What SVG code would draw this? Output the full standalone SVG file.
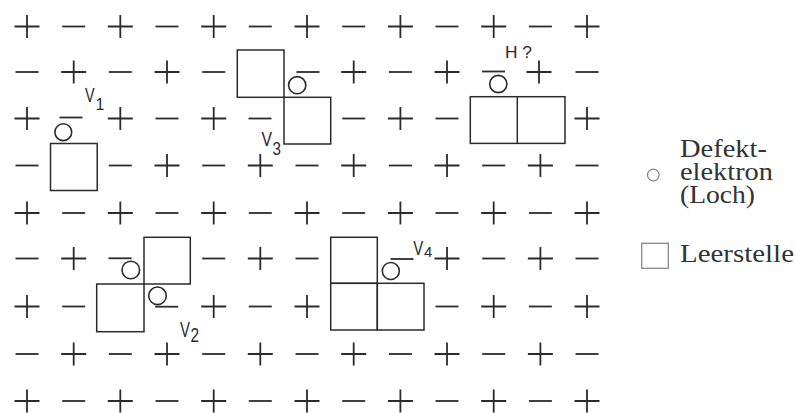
<svg xmlns="http://www.w3.org/2000/svg" xmlns:xlink="http://www.w3.org/1999/xlink" width="796" height="413" viewBox="0 0 796 413">
<style>
.ion{stroke:#2b2b2b;stroke-width:1.8;fill:none}
.sq{stroke:#2b2b2b;stroke-width:1.5;fill:none}
.hole{stroke:#2b2b2b;stroke-width:1.6;fill:none}
.lbl{font-family:"Liberation Sans",Arial,sans-serif;fill:#2b2b2b}
.leg{font-family:"Liberation Serif","Times New Roman",serif;font-size:26px;fill:#333}
.legs{stroke:#888;stroke-width:1.3;fill:none}
</style>
<defs>
<path id="p" class="ion" d="M-12.5 0H12.5M0 -11.5V11.5"/>
<path id="m" class="ion" d="M-11.5 0H11.5"/>
</defs>
<rect width="796" height="413" fill="#fff"/>
<g id="lattice">
<!-- row 0 -->
<use href="#p" x="27" y="26.5"/><use href="#m" x="73.7" y="26.5"/><use href="#p" x="120.3" y="26.5"/><use href="#m" x="167" y="26.5"/><use href="#p" x="213.7" y="26.5"/><use href="#m" x="260.3" y="26.5"/><use href="#p" x="307" y="26.5"/><use href="#m" x="353.7" y="26.5"/><use href="#p" x="400.4" y="26.5"/><use href="#m" x="447" y="26.5"/><use href="#p" x="493.7" y="26.5"/><use href="#m" x="540.4" y="26.5"/><use href="#p" x="587" y="26.5"/>
<!-- row 1 -->
<use href="#m" x="27" y="72"/><use href="#p" x="73.7" y="72"/><use href="#m" x="120.3" y="72"/><use href="#p" x="167" y="72"/><use href="#m" x="213.7" y="72"/><use href="#m" x="308" y="72"/><use href="#p" x="353.7" y="72"/><use href="#m" x="400.4" y="72"/><use href="#p" x="447" y="72"/><use href="#m" x="493.5" y="71.5"/><use href="#p" x="539" y="72"/><use href="#m" x="587" y="72"/>
<!-- row 2 -->
<use href="#p" x="27" y="118.5"/><use href="#m" x="71" y="117.5"/><use href="#p" x="120.3" y="118.5"/><use href="#m" x="167" y="118.5"/><use href="#p" x="213.7" y="118.5"/><use href="#m" x="260" y="118.5"/><use href="#m" x="353.7" y="118.5"/><use href="#p" x="400.4" y="118.5"/><use href="#m" x="447" y="118.5"/><use href="#p" x="587" y="118.5"/>
<!-- row 3 -->
<use href="#m" x="27" y="165.5"/><use href="#m" x="120.3" y="165.5"/><use href="#p" x="167" y="165.5"/><use href="#m" x="213.7" y="165.5"/><use href="#p" x="260.3" y="165.5"/><use href="#m" x="307" y="165.5"/><use href="#p" x="353.7" y="165.5"/><use href="#m" x="400.4" y="165.5"/><use href="#p" x="447" y="165.5"/><use href="#m" x="493.7" y="165.5"/><use href="#p" x="540.4" y="165.5"/><use href="#m" x="587" y="165.5"/>
<!-- row 4 -->
<use href="#p" x="27" y="213"/><use href="#m" x="73.7" y="213"/><use href="#p" x="120.3" y="213"/><use href="#m" x="167" y="213"/><use href="#p" x="213.7" y="213"/><use href="#m" x="260.3" y="213"/><use href="#p" x="307" y="213"/><use href="#m" x="353.7" y="213"/><use href="#p" x="400.4" y="213"/><use href="#m" x="447" y="213"/><use href="#p" x="493.7" y="213"/><use href="#m" x="540.4" y="213"/><use href="#p" x="587" y="213"/>
<!-- row 5 -->
<use href="#m" x="27" y="258.5"/><use href="#p" x="73.7" y="258.5"/><use href="#m" x="120" y="258.3"/><use href="#m" x="213.7" y="258.5"/><use href="#p" x="260.3" y="258.5"/><use href="#m" x="307" y="258.5"/><use href="#m" x="402" y="259"/><use href="#p" x="447" y="258.5"/><use href="#m" x="493.7" y="258.5"/><use href="#p" x="540.4" y="258.5"/><use href="#m" x="587" y="258.5"/>
<!-- row 6 -->
<use href="#p" x="27" y="306.5"/><use href="#m" x="73.7" y="306.5"/><use href="#m" x="166.7" y="306.7"/><use href="#p" x="213.7" y="306.5"/><use href="#m" x="260.3" y="306.5"/><use href="#p" x="307" y="306.5"/><use href="#m" x="447" y="306.5"/><use href="#p" x="493.7" y="306.5"/><use href="#m" x="540.4" y="306.5"/><use href="#p" x="587" y="306.5"/>
<!-- row 7 -->
<use href="#m" x="27" y="354"/><use href="#p" x="73.7" y="354"/><use href="#m" x="120.3" y="354"/><use href="#p" x="167" y="354"/><use href="#m" x="213.7" y="354"/><use href="#p" x="260.3" y="354"/><use href="#m" x="307" y="354"/><use href="#p" x="353.7" y="354"/><use href="#m" x="400.4" y="354"/><use href="#p" x="447" y="354"/><use href="#m" x="493.7" y="354"/><use href="#p" x="540.4" y="354"/><use href="#m" x="587" y="354"/>
<!-- row 8 -->
<use href="#p" x="27" y="401"/><use href="#m" x="73.7" y="401"/><use href="#p" x="120.3" y="401"/><use href="#m" x="167" y="401"/><use href="#p" x="213.7" y="401"/><use href="#m" x="260.3" y="401"/><use href="#p" x="307" y="401"/><use href="#m" x="353.7" y="401"/><use href="#p" x="400.4" y="401"/><use href="#m" x="447" y="401"/><use href="#p" x="493.7" y="401"/><use href="#m" x="540.4" y="401"/><use href="#p" x="587" y="401"/>
</g>
<g id="V1">
<rect class="sq" x="50.5" y="143.5" width="46.7" height="47"/>
<circle class="hole" cx="63.3" cy="132.2" r="8.4"/>
<text class="lbl" font-size="20" transform="translate(85 101.7) scale(0.72 1)">V</text>
<text class="lbl" font-size="16" x="95.5" y="110">1</text>
</g>
<g id="V3">
<rect class="sq" x="237.3" y="50" width="46.7" height="47.3"/>
<rect class="sq" x="284" y="97.3" width="46.7" height="46.7"/>
<circle class="hole" cx="297.2" cy="85.2" r="8.6"/>
<text class="lbl" font-size="21" transform="translate(261.5 146) scale(0.75 1)">V</text>
<text class="lbl" font-size="19" transform="translate(272.5 155) scale(0.8 1)">3</text>
</g>
<g id="H">
<rect class="sq" x="470.3" y="96.7" width="94.7" height="46.7"/>
<line class="sq" x1="517.3" y1="96.7" x2="517.3" y2="143.4"/>
<circle class="hole" cx="498.3" cy="84" r="8.6"/>
<text class="lbl" x="505" y="58.3" font-size="16" textLength="27" lengthAdjust="spacingAndGlyphs">H ?</text>
</g>
<g id="V2">
<rect class="sq" x="144" y="237.3" width="46.3" height="46.7"/>
<rect class="sq" x="96.7" y="284" width="47.3" height="47.7"/>
<circle class="hole" cx="130.8" cy="270" r="8.8"/>
<circle class="hole" cx="157.5" cy="295.8" r="8.8"/>
<text class="lbl" font-size="22" transform="translate(180 336.7) scale(0.68 1)">V</text>
<text class="lbl" font-size="20" transform="translate(190.5 341.7) scale(0.77 1)">2</text>
</g>
<g id="V4">
<rect class="sq" x="330.7" y="237.3" width="46.6" height="46"/>
<rect class="sq" x="330.7" y="283.3" width="46.6" height="46.7"/>
<rect class="sq" x="377.3" y="283.3" width="46.7" height="46.7"/>
<circle class="hole" cx="390.8" cy="271" r="8.5"/>
<text class="lbl" font-size="21" transform="translate(413.3 255) scale(0.71 1)">V</text>
<text class="lbl" font-size="15" x="424" y="257">4</text>
</g>
<g id="legend">
<circle class="legs" cx="653.3" cy="175" r="5.8"/>
<text class="leg" x="680" y="156.5" textLength="87" lengthAdjust="spacingAndGlyphs">Defekt-</text>
<text class="leg" x="680" y="179.5" textLength="93" lengthAdjust="spacingAndGlyphs">elektron</text>
<text class="leg" x="680" y="202.5" textLength="75" lengthAdjust="spacingAndGlyphs">(Loch)</text>
<rect class="legs" x="641.7" y="243.3" width="26.6" height="25"/>
<text class="leg" x="680" y="261.7" textLength="114" lengthAdjust="spacingAndGlyphs">Leerstelle</text>
</g>
</svg>
